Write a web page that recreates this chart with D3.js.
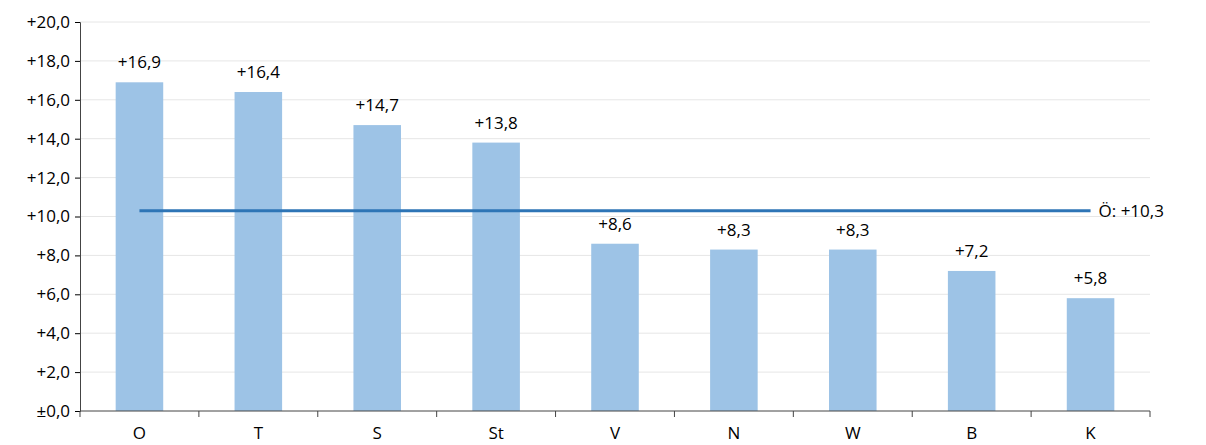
<!DOCTYPE html>
<html><head><meta charset="utf-8">
<script src="https://cdn.jsdelivr.net/npm/d3@7"></script>
<style>body{margin:0;background:#fff}text{font-family:"Open Sans",sans-serif;fill:#000}</style>
</head><body><svg id="c" width="1206" height="445"></svg>
<script>
const categories = ["O","T","S","St","V","N","W","B","K"];
const values = [16.9,16.4,14.7,13.8,8.6,8.3,8.3,7.2,5.8];
const average = 10.3;
const yTicks = [0,2,4,6,8,10,12,14,16,18,20];

const svg = d3.select("#c");
const m = {l:80, r:56, t:22, b:34};
const W = 1206, H = 445;
const x = d3.scaleBand().domain(categories).range([m.l, W - m.r]).paddingInner(0.6).paddingOuter(0.3);
const y = d3.scaleLinear().domain([0,20]).range([H - m.b, m.t]);
const fmt = v => (v === 0 ? "±" : "+") + v.toFixed(1).replace(".", ",");

svg.append("g").selectAll("line").data(yTicks.slice(1)).join("line")
  .attr("x1", m.l).attr("x2", W - m.r).attr("y1", y).attr("y2", y)
  .attr("stroke", "#e6e6e6");

const ya = svg.append("g").attr("transform", `translate(${m.l},0)`)
  .call(d3.axisLeft(y).tickValues(yTicks).tickFormat(fmt).tickSize(5));
ya.select(".domain").attr("stroke", "#444");
ya.selectAll("text").style("font-size", "17px").attr("dx", "-2");

svg.selectAll("rect").data(values).join("rect")
  .attr("x", (d,i) => x(categories[i])).attr("width", x.bandwidth())
  .attr("y", d => y(d)).attr("height", d => y(0) - y(d)).attr("fill", "#9dc3e6");

svg.selectAll(".lbl").data(values).join("text").attr("class","lbl")
  .attr("x", (d,i) => x(categories[i]) + x.bandwidth()/2).attr("y", d => y(d) - 14)
  .attr("text-anchor","middle").style("font-size","17px").text(fmt);

const xa = svg.append("g").attr("transform", `translate(0,${y(0)})`);
xa.append("line").attr("x1", m.l).attr("x2", W - m.r).attr("stroke", "#444");
const bounds = d3.range(categories.length + 1).map(i => m.l + (W - m.l - m.r) * i / categories.length);
xa.selectAll(".t").data(bounds).join("line").attr("class","t")
  .attr("x1", d => d).attr("x2", d => d).attr("y1", 0).attr("y2", 6).attr("stroke", "#444");
xa.selectAll("text").data(categories).join("text")
  .attr("x", (d,i) => (bounds[i] + bounds[i+1]) / 2).attr("y", 28)
  .attr("text-anchor","middle").style("font-size","17px").text(d => d);

const x0 = x(categories[0]) + x.bandwidth()/2;
const x1 = x(categories[categories.length-1]) + x.bandwidth()/2;
svg.append("line").attr("x1", x0).attr("x2", x1).attr("y1", y(average)).attr("y2", y(average))
  .attr("stroke", "#2e75b6").attr("stroke-width", 3);
svg.append("text").attr("x", x1 + 8).attr("y", y(average) + 6).style("font-size","17px")
  .text("Ö: " + fmt(average));
</script></body></html>
